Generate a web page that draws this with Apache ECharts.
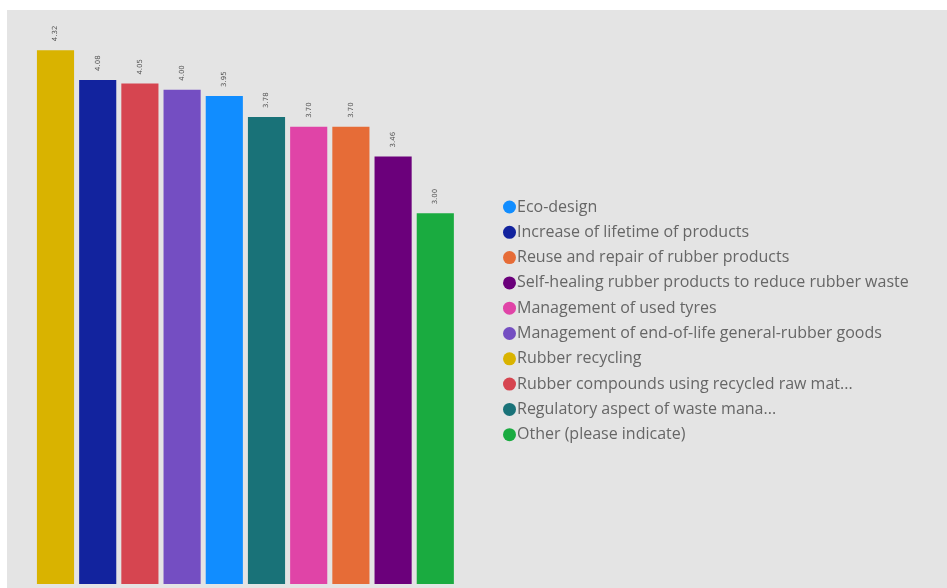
<!DOCTYPE html>
<html>
<head>
<meta charset="utf-8">
<script src="https://cdn.jsdelivr.net/npm/echarts@6/dist/echarts.min.js"></script>
<style>
  html, body { margin: 0; padding: 0; background: #ffffff; }
  #panel { position: absolute; left: 7px; top: 10px; width: 940px; height: 578px; background: #e4e4e4; }
  #chart { width: 940px; height: 578px; }
</style>
</head>
<body>
<div id="panel"><div id="chart"></div></div>
<script>
// Topics, sorted by average score (bar order)
const categories = [
  'Rubber recycling',
  'Increase of lifetime of products',
  'Rubber compounds using recycled raw mat...',
  'Management of end-of-life general-rubber goods',
  'Eco-design',
  'Regulatory aspect of waste mana...',
  'Management of used tyres',
  'Reuse and repair of rubber products',
  'Self-healing rubber products to reduce rubber waste',
  'Other (please indicate)'
];
const values = [4.32, 4.08, 4.05, 4.00, 3.95, 3.78, 3.70, 3.70, 3.46, 3.00];
const colors = ['#D9B300', '#12239E', '#D64550', '#744EC2', '#118DFF', '#197278', '#E044A7', '#E66C37', '#6B007B', '#1AAB40'];

// Order in which topics appear in the legend
const legendOrder = [
  'Eco-design',
  'Increase of lifetime of products',
  'Reuse and repair of rubber products',
  'Self-healing rubber products to reduce rubber waste',
  'Management of used tyres',
  'Management of end-of-life general-rubber goods',
  'Rubber recycling',
  'Rubber compounds using recycled raw mat...',
  'Regulatory aspect of waste mana...',
  'Other (please indicate)'
];

// One series per topic so each gets its own legend entry; stacking keeps bars full width
const series = categories.map((name, i) => ({
  name: name,
  type: 'bar',
  stack: 'topics',
  barCategoryGap: '12%',
  itemStyle: { color: colors[i] },
  data: categories.map((_, j) => (j === i ? values[i] : '-')),
  label: {
    show: true,
    position: 'top',
    rotate: 90,
    align: 'left',
    verticalAlign: 'middle',
    distance: 9,
    fontSize: 7,
    color: '#555',
    fontFamily: 'DejaVu Sans',
    formatter: p => p.value.toFixed(2)
  }
}));

const chart = echarts.init(document.getElementById('chart'));
chart.setOption({
  backgroundColor: 'transparent',
  animation: false,
  color: colors,
  grid: { left: 27.4, top: 18, width: 422, bottom: 4 },
  xAxis: {
    type: 'category',
    data: categories,
    axisLine: { show: false },
    axisTick: { show: false },
    axisLabel: { show: false }
  },
  yAxis: {
    type: 'value',
    min: 0,
    max: 4.5,
    axisLine: { show: false },
    axisTick: { show: false },
    axisLabel: { show: false },
    splitLine: { show: false }
  },
  legend: {
    orient: 'vertical',
    left: 491,
    top: 184,
    data: legendOrder,
    icon: 'circle',
    itemWidth: 13,
    itemHeight: 13,
    itemGap: 9.3,
    textStyle: {
      fontFamily: 'Open Sans',
      fontSize: 16,
      lineHeight: 16,
      color: '#666',
      padding: [0, 0, 0, -4]
    }
  },
  series: series
});
</script>
</body>
</html>
